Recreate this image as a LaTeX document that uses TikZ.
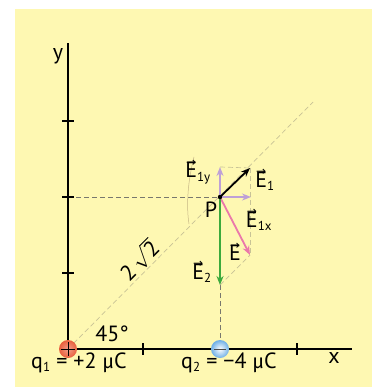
\documentclass[tikz,border=0pt]{standalone}
\usepackage{fontspec}
\setmainfont{PT Sans}
\newfontfamily\greekf{Fira Sans}
\newfontfamily\arrowf{DejaVu Sans}
\usetikzlibrary{arrows.meta}
\definecolor{bgyel}{RGB}{254,248,178}
\definecolor{vgreen}{RGB}{60,170,60}
\definecolor{vpink}{RGB}{235,120,170}
\definecolor{vlilac}{RGB}{190,160,215}
\definecolor{dgray}{RGB}{120,120,110}
\definecolor{lgray}{RGB}{200,195,150}
\definecolor{qred}{RGB}{232,95,60}
\definecolor{qblue}{RGB}{110,175,230}
\tikzset{
  axis/.style={line width=1.8pt,black},
  tick/.style={line width=1.4pt,black},
  guide/.style={dgray,line width=0.6pt,dash pattern=on 5pt off 3pt},
  lguide/.style={lgray,line width=0.7pt,dash pattern=on 5pt off 3pt},
  vec/.style={line width=1.8pt,-{Stealth[length=9pt,width=7pt]}},
  lab/.style={font=\fontsize{22}{22}\selectfont,inner sep=0pt},
}
\newcommand{\vE}{\leavevmode\vbox{\offinterlineskip\halign{\hfil##\hfil\cr{\arrowf\fontsize{12}{12}\selectfont →}\cr\noalign{\kern-4pt}E\cr}}}
\newcommand{\sub}[1]{\textsubscript{\fontsize{13}{13}\selectfont #1}}
\newcommand{\mic}{{\greekf\fontsize{20}{20}\selectfont μ}}
\begin{document}
\begin{tikzpicture}[x=1pt,y=-1pt]
\useasboundingbox (0,0) rectangle (374,387);
\fill[white] (0,0) rectangle (374,387);
\fill[bgyel] (15,9) rectangle (372,387);
% coordinates
\coordinate (O) at (68,349);
\coordinate (Q2) at (220,349);
\coordinate (P) at (220,197);
\coordinate (Yax) at (68,197);
\coordinate (E1t) at (250,168);
\coordinate (E1yt) at (220,167);
\coordinate (E1xt) at (251,197);
\coordinate (E2t) at (220,285);
\coordinate (Et) at (250,255);
\coordinate (Dg) at (313,102);
% guides
\draw[lguide] (O) -- (Dg);
\draw[guide] (Yax) -- (E1xt);
\draw[guide] (E2t) -- (Q2);
\draw[lguide] (E1yt) -- (E1t);
\draw[lguide] (E1t) -- (Et);
\draw[lguide] (E2t) -- (Et);
\draw[lgray!80!brown,line width=0.5pt] (194,157) .. controls (188,180) and (186,205) .. (189,224);
% axes
\draw[axis] (O) -- (68,43);
\draw[axis] (O) -- (352,349);
\foreach \yy in {121,197,273} \draw[tick] (62,\yy) -- (74,\yy);
\foreach \xx in {143,297} \draw[tick] (\xx,343) -- (\xx,355);
% charges
\shade[inner color=qred!60!white,outer color=qred] (O) circle (9);
\draw[line width=1pt,black] (61,349) -- (75,349) (68,342) -- (68,356);
\shade[inner color=white,outer color=qblue] (Q2) circle (9);
\draw[line width=1pt,black!70] (214,349) -- (226,349);
% vectors
\draw[vec,vlilac,line width=1.4pt] (P) -- (E1yt);
\draw[vec,vlilac,line width=1.4pt] (P) -- (E1xt);
\draw[vec,vpink] (P) -- (Et);
\draw[vec,vgreen] (P) -- (E2t);
\draw[vec,black] (P) -- (E1t);
\fill[black] (P) circle (2.2);
% labels
\node[lab] (ly) at (58,56) {y};
\node[lab] (lx) at (334,358) {x};
\node[lab] (lP) at (211,210) {P};
\node[lab] (l45) at (112,334) {45°};
\node[lab,rotate=45] (lr) at (139,260) {2\,$\sqrt{\mbox{2}}$};
\node[lab,anchor=west] (lq1) at (31,363) {q\sub{1} = +2 \mic C};
\node[lab,anchor=west] (lq2) at (181,363) {q\sub{2} = −4 \mic C};
\node[lab] (lE1y) at (198,172) {\vE\sub{1y}};
\node[lab] (lE1) at (265,180) {\vE\sub{1}};
\node[lab] (lE1x) at (259,220) {\vE\sub{1x}};
\node[lab] (lE) at (235,252) {\vE};
\node[lab] (lE2) at (202,272) {\vE\sub{2}};
\end{tikzpicture}
\end{document}
